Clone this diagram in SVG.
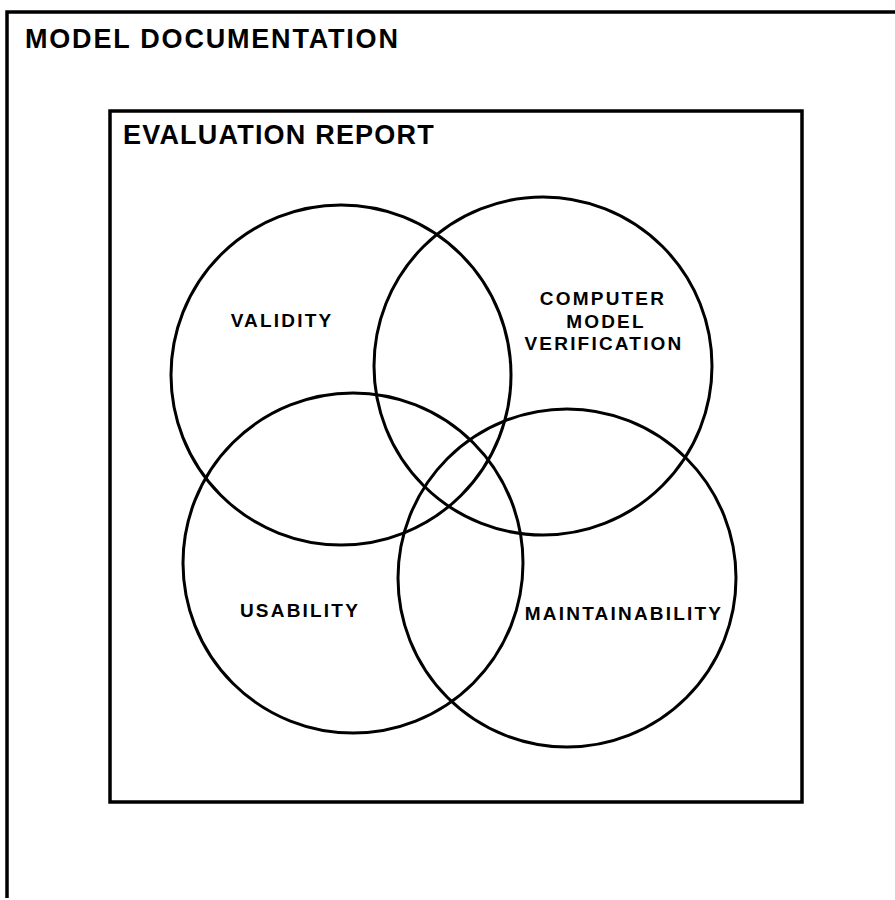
<svg xmlns="http://www.w3.org/2000/svg" width="895" height="900" viewBox="0 0 895 900">
<style>
.frame{fill:none;stroke:#000;stroke-width:3.5}
.c{fill:none;stroke:#000;stroke-width:3}
.t{font-family:"Liberation Sans",Arial,sans-serif;font-weight:bold;fill:#000}
.title{font-size:27px;letter-spacing:1.8px}
.lbl{font-size:19px;letter-spacing:2.2px;text-anchor:middle}
</style>
<rect width="895" height="900" fill="#fff"/>
<g id="model-documentation">
<path class="frame" d="M7 898 V12 H897"/>
<text class="t title" x="25" y="48">MODEL DOCUMENTATION</text>
</g>
<g id="evaluation-report">
<rect class="frame" x="110" y="111" width="692" height="691"/>
<text class="t title" x="123" y="144" style="letter-spacing:1.2px">EVALUATION REPORT</text>
</g>
<g id="validity">
<circle class="c" cx="341" cy="375" r="170"/>
<text class="t lbl" x="282" y="327">VALIDITY</text>
</g>
<g id="computer-model-verification">
<circle class="c" cx="543" cy="366" r="169"/>
<text class="t lbl" x="603" y="305">COMPUTER</text>
<text class="t lbl" x="606" y="328">MODEL</text>
<text class="t lbl" x="604" y="350">VERIFICATION</text>
</g>
<g id="usability">
<circle class="c" cx="353" cy="563" r="170"/>
<text class="t lbl" x="300" y="617">USABILITY</text>
</g>
<g id="maintainability">
<circle class="c" cx="567" cy="578" r="169"/>
<text class="t lbl" x="624" y="620">MAINTAINABILITY</text>
</g>
<g id="connectors"/>
</svg>
